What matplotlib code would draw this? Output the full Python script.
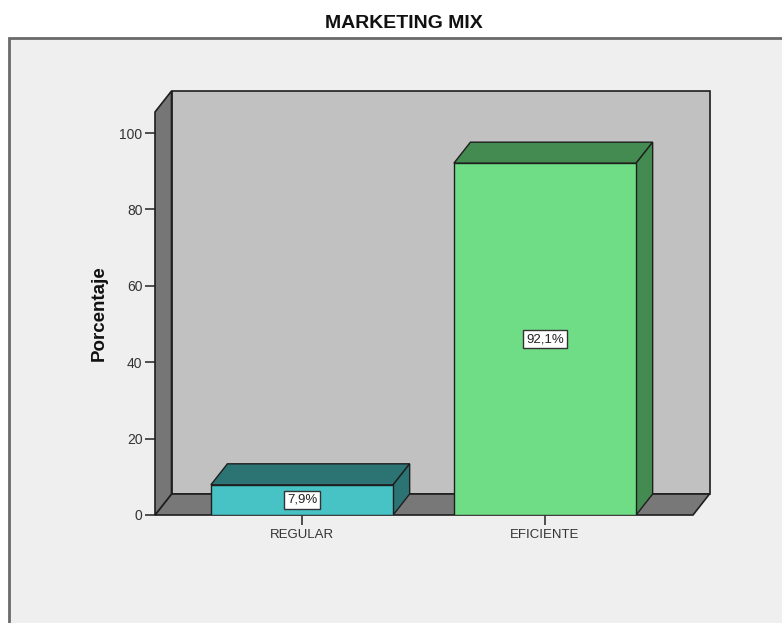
import matplotlib.pyplot as plt
from matplotlib.patches import Polygon, Rectangle

plt.rcParams['font.family'] = ['Liberation Sans', 'DejaVu Sans']

categories = ['REGULAR', 'EFICIENTE']
percentages = [7.9, 92.1]
value_labels = ['7,9%', '92,1%']
front_colors = ['#47c2c5', '#6fdd85']
shade_colors = ['#2c7474', '#438b50']

W, H = 782, 623
fig = plt.figure(figsize=(W / 100, H / 100), dpi=100)
fig.patch.set_facecolor('white')

# light grey chart panel with a dark border on the top/left edges
fig.add_artist(Rectangle((9 / W, -0.05), 1.0, (H - 38) / H + 0.05,
                         transform=fig.transFigure, facecolor='#efefef',
                         edgecolor='#6a6a6a', lw=2, zorder=0))

fig.text(404 / W, 1 - 24 / H, 'MARKETING MIX', ha='center', va='center',
         fontsize=14, fontweight='bold', color='#111111')

ax = fig.add_axes([155 / W, 108 / H, 538 / W, 403 / H])
ax.patch.set_visible(False)
for s in ax.spines.values():
    s.set_visible(False)

x0, x1 = -0.605, 1.609
ytop = 105.5
ax.set_xlim(x0, x1)
ax.set_ylim(0, ytop)

# depth offset of the pseudo-3D box (data units)
dx, dy = 0.068, 5.5
edge = '#1e1e1e'

# back wall, floor and left wall
ax.add_patch(Rectangle((x0 + dx, dy), x1 - x0, ytop, facecolor='#c1c1c1',
                       edgecolor=edge, lw=1.2, clip_on=False, zorder=1))
ax.add_patch(Polygon([(x0, 0), (x1, 0), (x1 + dx, dy), (x0 + dx, dy)],
                     facecolor='#787878', edgecolor=edge, lw=1.2,
                     clip_on=False, zorder=1.5))
ax.add_patch(Polygon([(x0, 0), (x0 + dx, dy), (x0 + dx, ytop + dy), (x0, ytop)],
                     facecolor='#767676', edgecolor=edge, lw=1.2,
                     clip_on=False, zorder=1.6))

xpos = list(range(len(categories)))
bw = 0.75
bars = ax.bar(xpos, percentages, width=bw, color=front_colors,
              edgecolor=edge, lw=1, zorder=3)

for b, shade in zip(bars, shade_colors):
    xl = b.get_x()
    xr = xl + b.get_width()
    h = b.get_height()
    ax.add_patch(Polygon([(xl, h), (xr, h), (xr + dx, h + dy), (xl + dx, h + dy)],
                         facecolor=shade, edgecolor=edge, lw=1, zorder=2.5))
    ax.add_patch(Polygon([(xr, 0), (xr + dx, dy), (xr + dx, h + dy), (xr, h)],
                         facecolor=shade, edgecolor=edge, lw=1, zorder=2.5))

for xi, h, lab in zip(xpos, percentages, value_labels):
    ax.text(xi, h / 2, lab, ha='center', va='center', fontsize=9.5,
            color='#222222', zorder=5,
            bbox=dict(boxstyle='square,pad=0.2', facecolor='white',
                      edgecolor='#333333', lw=1))

ax.set_yticks(range(0, 101, 20))
ax.set_xticks(xpos)
ax.set_xticklabels(categories)
ax.tick_params(axis='y', length=7, width=1.2, color='#333333',
               labelsize=10, labelcolor='#333333', pad=2)
ax.tick_params(axis='x', length=7, width=1.2, color='#333333',
               labelsize=9.5, labelcolor='#333333', pad=3)

ax.set_ylabel('Porcentaje', fontsize=13.5, fontweight='bold', color='#111111')
ax.yaxis.set_label_coords(-0.088, 0.5)

fig.savefig('out.png', dpi=100, facecolor='white')
